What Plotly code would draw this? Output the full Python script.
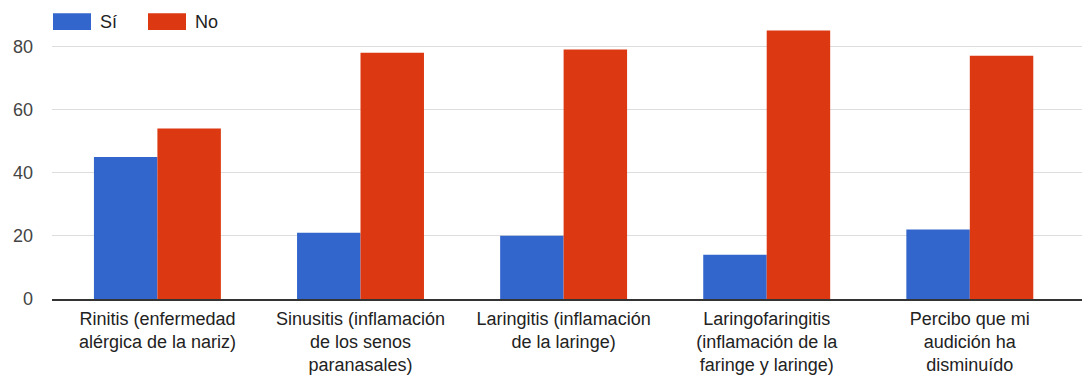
import plotly.graph_objects as go

# Survey results: respiratory / hearing conditions, Sí vs No counts
categories = [
    "Rinitis (enfermedad<br>alérgica de la nariz)",
    "Sinusitis (inflamación<br>de los senos<br>paranasales)",
    "Laringitis (inflamación<br>de la laringe)",
    "Laringofaringitis<br>(inflamación de la<br>faringe y laringe)",
    "Percibo que mi<br>audición ha<br>disminuído",
]
si_values = [45, 21, 20, 14, 22]
no_values = [54, 78, 79, 85, 77]
series_names = ["Sí", "No"]
y_ticks = [0, 20, 40, 60, 80]

BLUE = "#3366cc"
RED = "#dc3912"
FONT = "Liberation Sans, Arial, sans-serif"

W, H = 1084, 377
ML, MR, MT, MB = 52, 2, 29, 74
plot_w = W - ML - MR
plot_h = H - MT - MB

fig = go.Figure()
fig.add_trace(go.Bar(x=list(range(len(categories))), y=si_values, name=series_names[0],
                     marker=dict(color=BLUE, line=dict(width=0)), showlegend=False))
fig.add_trace(go.Bar(x=list(range(len(categories))), y=no_values, name=series_names[1],
                     marker=dict(color=RED, line=dict(width=0)), showlegend=False))


def px_x(px):
    return (px - ML) / plot_w


def px_y(py):
    return (H - MB - py) / plot_h


# Legend drawn as swatches + labels along the top
shapes = []
annotations = []
legend_items = [(53, BLUE, series_names[0]), (148, RED, series_names[1])]
for left, color, label in legend_items:
    shapes.append(dict(type="rect", xref="paper", yref="paper",
                       x0=px_x(left), x1=px_x(left + 38), y0=px_y(30), y1=px_y(13),
                       fillcolor=color, line=dict(width=0), layer="above"))
    annotations.append(dict(xref="paper", yref="paper", x=px_x(left + 45), y=px_y(21.5),
                            text=label, showarrow=False, xanchor="left", yanchor="middle",
                            font=dict(family=FONT, size=18, color="#222222")))

x_start = -0.519
x_end = x_start + plot_w / 203.1

fig.update_layout(
    width=W, height=H,
    margin=dict(l=ML, r=MR, t=MT, b=MB, pad=0),
    paper_bgcolor="white", plot_bgcolor="white",
    barmode="group", bargap=0.375, bargroupgap=0.0,
    font=dict(family=FONT, size=18, color="#222222"),
    shapes=shapes, annotations=annotations,
    xaxis=dict(
        range=[x_start, x_end],
        tickmode="array", tickvals=list(range(len(categories))), ticktext=categories,
        tickfont=dict(family=FONT, size=18, color="#222222"),
        showgrid=False, zeroline=False,
        showline=True, linecolor="#333333", linewidth=2,
        ticks="", ticklabelstandoff=2,
    ),
    yaxis=dict(
        range=[0, 85.5],
        tickmode="array", tickvals=y_ticks,
        tickfont=dict(family=FONT, size=18, color="#444444"),
        showgrid=True, gridcolor="#dddddd", gridwidth=1,
        zeroline=False, showline=False,
        ticks="", ticklabelstandoff=18,
    ),
)

fig.write_html("out.html")
